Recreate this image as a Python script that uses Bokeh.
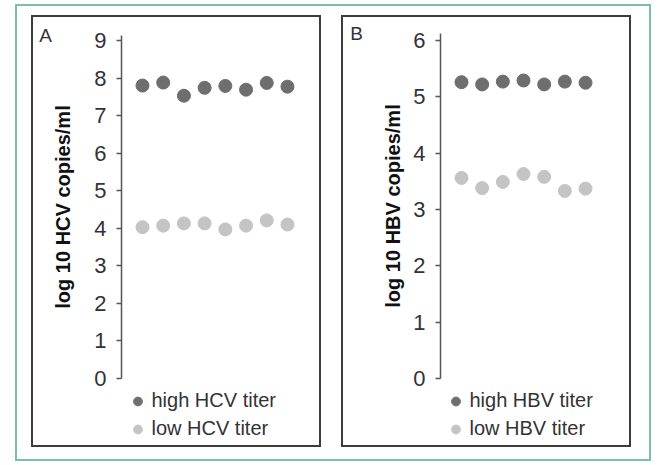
from bokeh.plotting import figure
from bokeh.models import Range1d, FixedTicker, Legend, LegendItem, Label
from bokeh.layouts import row, column
from bokeh.embed import file_html
from bokeh.resources import INLINE

# Panel A: HCV viral load per sample (log10 copies/ml)
hcv_samples = [1, 2, 3, 4, 5, 6, 7, 8]
hcv_high = [7.80, 7.88, 7.53, 7.74, 7.79, 7.69, 7.87, 7.77]
hcv_low = [4.03, 4.07, 4.13, 4.13, 3.97, 4.07, 4.21, 4.10]
hcv_ticks = [0, 1, 2, 3, 4, 5, 6, 7, 8, 9]

# Panel B: HBV viral load per sample (log10 copies/ml)
hbv_samples = [1, 2, 3, 4, 5, 6, 7]
hbv_high = [5.26, 5.22, 5.27, 5.29, 5.22, 5.27, 5.25]
hbv_low = [3.56, 3.38, 3.49, 3.63, 3.58, 3.33, 3.37]
hbv_ticks = [0, 1, 2, 3, 4, 5, 6]

HIGH_COLOR = "#6e6e6e"
LOW_COLOR = "#c4c4c4"
TEXT_COLOR = "#333333"
PANEL_BORDER = "2px solid #3c3c3c"
FONT = "Liberation Sans"

FIG_W = 290             # panel width
MAIN_H = 375            # height of the scatter part
LEGEND_H = 57           # height of the legend strip underneath
RIGHT_PAD = 14


def make_panel(letter, letter_dx, axis_label, xs, high, low, ticks, x_range, y_end,
               border_left, border_top, border_bottom, label_standoff, legend_loc,
               high_name, low_name):
    p = figure(width=FIG_W, height=MAIN_H, output_backend="svg",
               toolbar_location=None,
               x_range=Range1d(*x_range), y_range=Range1d(0, y_end),
               x_axis_location=None,
               min_border_left=border_left, min_border_right=RIGHT_PAD,
               min_border_top=border_top, min_border_bottom=border_bottom,
               styles={"border-top": PANEL_BORDER, "border-left": PANEL_BORDER,
                       "border-right": PANEL_BORDER})
    p.grid.visible = False
    p.outline_line_color = None

    ax = p.yaxis[0]
    ax.ticker = FixedTicker(ticks=ticks)
    ax.major_tick_in = 0
    ax.major_tick_out = 5
    ax.minor_tick_line_color = None
    ax.axis_line_color = "#555555"
    ax.axis_line_width = 1.5
    ax.major_tick_line_color = "#555555"
    ax.major_tick_line_width = 1.5
    ax.major_label_text_font = FONT
    ax.major_label_text_font_size = "22px"
    ax.major_label_text_color = TEXT_COLOR
    ax.major_label_standoff = 10
    ax.axis_label = axis_label
    ax.axis_label_text_font = FONT
    ax.axis_label_text_font_style = "bold"
    ax.axis_label_text_font_size = "20px"
    ax.axis_label_text_color = "#111111"
    ax.axis_label_standoff = label_standoff

    p.scatter(xs, high, size=13, color=HIGH_COLOR)
    p.scatter(xs, low, size=13, color=LOW_COLOR)

    # panel letter in the left margin, level with the top of the axis
    frame_w = FIG_W - border_left - RIGHT_PAD
    units_per_px = (x_range[1] - x_range[0]) / frame_w
    p.add_layout(Label(x=x_range[0] + letter_dx * units_per_px, y=y_end,
                       text=letter, text_align="center", text_baseline="middle",
                       text_font=FONT, text_font_size="19px",
                       text_color=TEXT_COLOR), "left")

    # legend strip below the scatter
    lf = figure(width=FIG_W, height=LEGEND_H, output_backend="svg",
                toolbar_location=None, x_axis_location=None, y_axis_location=None,
                min_border=0,
                styles={"border-bottom": PANEL_BORDER, "border-left": PANEL_BORDER,
                        "border-right": PANEL_BORDER})
    lf.grid.visible = False
    lf.outline_line_color = None
    nan = float("nan")
    key_high = lf.scatter([nan], [nan], size=13, color=HIGH_COLOR)
    key_low = lf.scatter([nan], [nan], size=13, color=LOW_COLOR)
    legend = Legend(items=[LegendItem(label=high_name, renderers=[key_high]),
                           LegendItem(label=low_name, renderers=[key_low])],
                    location=legend_loc, padding=0, margin=0, spacing=5,
                    glyph_width=25, glyph_height=22, label_height=22,
                    label_standoff=2, border_line_color=None,
                    background_fill_alpha=0,
                    label_text_font=FONT, label_text_font_size="20px",
                    label_text_color=TEXT_COLOR)
    lf.add_layout(legend, "center")
    return column(p, lf, spacing=0)


panel_a = make_panel("A", -76, "log 10 HCV copies/ml", hcv_samples, hcv_high, hcv_low,
                     hcv_ticks, (-0.014, 9.064), 9.133, 88, 18, 14, 17, (3.5, 7),
                     "high HCV titer", "low HCV titer")
panel_b = make_panel("B", -84, "log 10 HBV copies/ml", hbv_samples, hbv_high, hbv_low,
                     hbv_ticks, (-0.016, 8.644), 6.124, 97, 16, 14, 6, (2.5, 7),
                     "high HBV titer", "low HBV titer")

layout = row(panel_a, panel_b, spacing=20,
             styles={"border": "2px solid #7bbfa8", "padding": "9px 18px 12px 14px",
                     "margin-left": "15px", "margin-top": "4px",
                     "background": "white"})

open("out.html", "w").write(file_html(layout, INLINE))
